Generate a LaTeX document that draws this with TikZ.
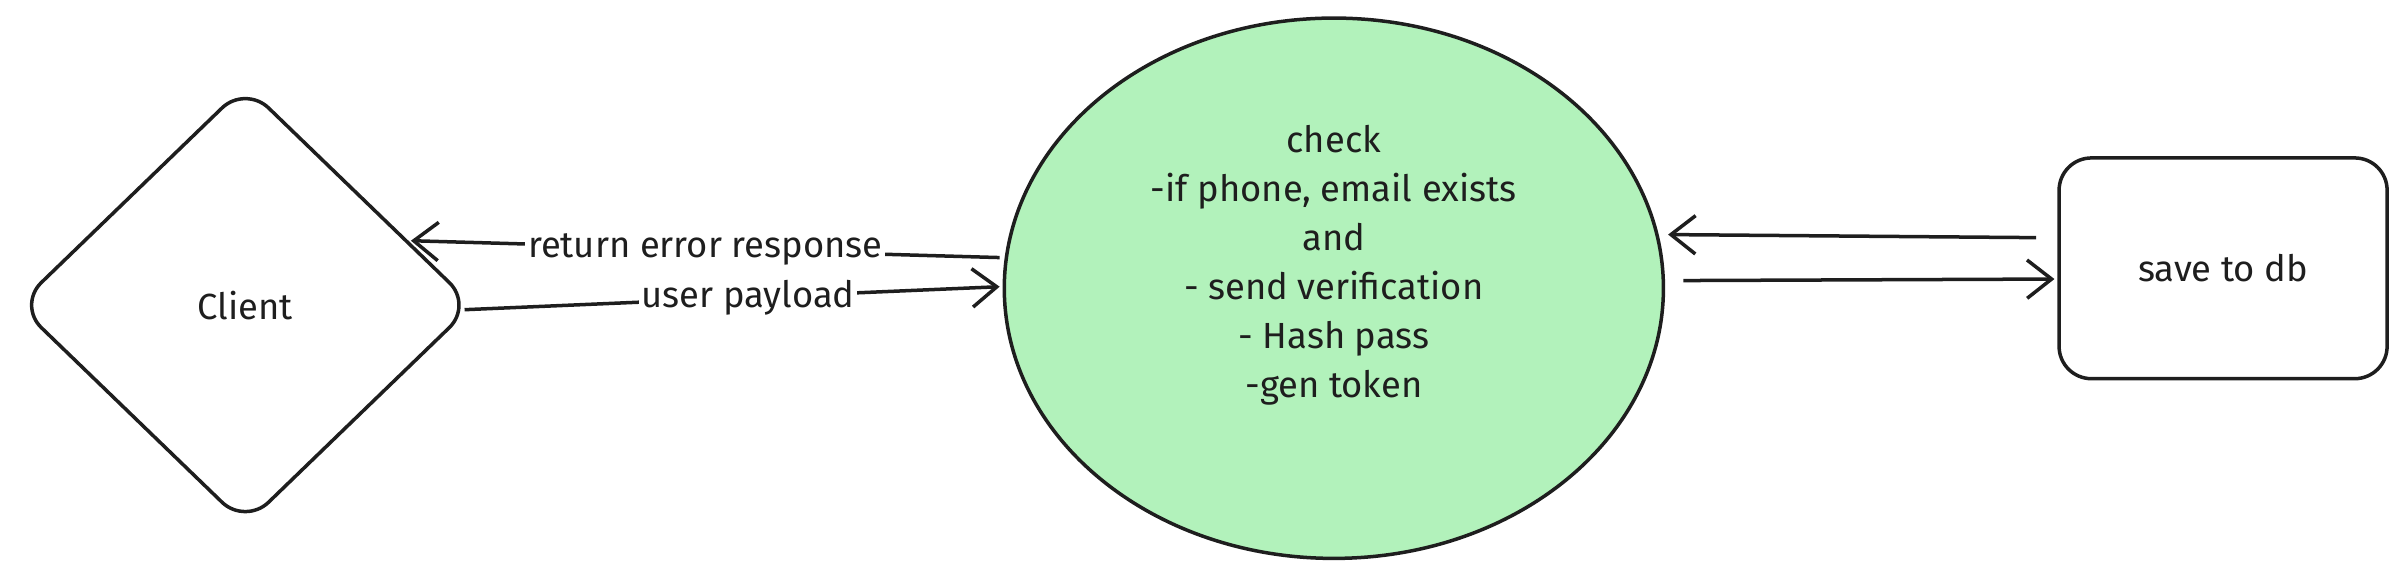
\documentclass[tikz,border=0pt]{standalone}
\usepackage{fontspec}
\setmainfont{Fira Sans}
\usetikzlibrary{arrows.meta, positioning, shapes.geometric}
\definecolor{checkgreen}{HTML}{B2F2BB}
\definecolor{ink}{HTML}{1E1E1E}

\begin{document}
\begin{tikzpicture}[
    x=0.02cm, y=-0.02cm,
    >={Straight Barb[length=3.2mm, width=5mm]},
    box/.style={draw=ink, line width=1.3pt, font=\fontsize{13.5}{18.2}\selectfont, text=ink},
    flow/.style={->, draw=ink, line width=1.3pt},
    tag/.style={font=\fontsize{13.5}{15}\selectfont, text=ink, fill=white, inner sep=1pt}
]
\useasboundingbox (0,0) rectangle (1568,368);

% Nodes
\node[box, diamond, minimum width=5.95cm, minimum height=5.75cm, rounded corners=12pt, inner sep=0pt] (client) at (160,199) {Client};
\node[box, ellipse, fill=checkgreen, minimum width=8.6cm, minimum height=7.05cm, align=center] (check) at (870,188)
    {check\\-if phone, email exists\\and\\- send verification\\- Hash pass\\-gen token\\[2pt]\mbox{}};
\node[box, minimum width=4.28cm, minimum height=2.88cm, rounded corners=12pt] (db) at (1450,175) {save to db};

% Connector ends
\coordinate (errA) at (652,168);
\coordinate (errB) at (268,157);
\coordinate (payA) at (303,202);
\coordinate (payB) at (652,187);
\coordinate (backA) at (1328,155);
\coordinate (backB) at (1088,153);
\coordinate (saveA) at (1098,183);
\coordinate (saveB) at (1340,182);

% Connectors
\draw[flow] (errA) -- node[tag, pos=0.5] {return error response} (errB);
\draw[flow] (payA) -- node[tag, pos=0.53] {user payload} (payB);
\draw[flow] (backA) -- (backB);
\draw[flow] (saveA) -- (saveB);

\end{tikzpicture}
\end{document}
